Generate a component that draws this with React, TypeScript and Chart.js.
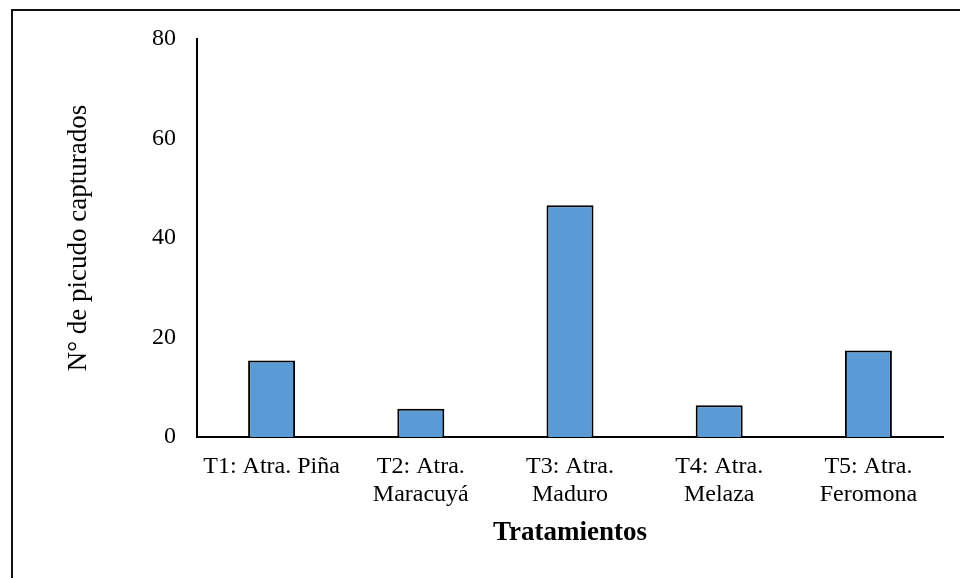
import React, { useEffect, useRef } from "react";
import { Chart, registerables } from "chart.js";

Chart.register(...registerables);

const categories: (string | string[])[] = [
  "T1: Atra. Piña",
  ["T2: Atra.", "Maracuyá"],
  ["T3: Atra.", "Maduro"],
  ["T4: Atra.", "Melaza"],
  ["T5: Atra.", "Feromona"],
];
const capturados = [15.4, 5.7, 46.6, 6.4, 17.4];
const yTicks = [0, 20, 40, 60, 80];

const FONT = '"Liberation Serif", "Times New Roman", serif';

const framePlugin = {
  id: "frame",
  beforeDraw(chart: any) {
    const ctx = chart.ctx;
    ctx.save();
    ctx.fillStyle = "#fff";
    ctx.fillRect(0, 0, chart.width, chart.height);
    ctx.fillStyle = "#111";
    ctx.fillRect(11, 9, 2, chart.height);
    ctx.fillRect(11, 9, chart.width, 2);
    ctx.restore();
  },
};

export default function App() {
  const ref = useRef<HTMLCanvasElement>(null);
  useEffect(() => {
    document.body.style.margin = "0";
    const chart = new Chart(ref.current!, {
      type: "bar",
      data: {
        labels: categories,
        datasets: [
          {
            data: capturados,
            backgroundColor: "#5B9BD5",
            borderColor: "#000",
            borderWidth: 2,
            barPercentage: 0.315,
            categoryPercentage: 1,
          },
        ],
      },
      options: {
        responsive: false,
        animation: false,
        layout: { padding: { left: 0, top: 39, right: 17, bottom: 0 } },
        plugins: { legend: { display: false }, tooltip: { enabled: false } },
        scales: {
          x: {
            grid: { display: false, drawTicks: false },
            border: { display: true, color: "#000", width: 2 },
            ticks: {
              color: "#000",
              padding: 16,
              maxRotation: 0,
              autoSkip: false,
              font: { family: FONT, size: 24, lineHeight: 1.15 },
            },
            title: {
              display: true,
              text: "Tratamientos",
              color: "#000",
              font: { family: FONT, size: 27, weight: "bold", lineHeight: 1.2 },
              padding: { top: 0, bottom: 29 },
            },
            afterFit: (s: any) => {
              s.height = 141;
            },
          },
          y: {
            min: 0,
            max: 80,
            afterBuildTicks: (s: any) => {
              s.ticks = yTicks.map((v) => ({ value: v }));
            },
            grid: { display: false, drawTicks: false },
            border: { display: true, color: "#000", width: 2 },
            ticks: {
              color: "#000",
              padding: 21,
              font: { family: FONT, size: 24 },
            },
            title: {
              display: true,
              text: "N° de picudo capturados",
              color: "#000",
              font: { family: FONT, size: 27, lineHeight: 1.2 },
              padding: { top: 63, bottom: 0 },
            },
            afterFit: (s: any) => {
              s.width = 197;
            },
          },
        },
      },
      plugins: [framePlugin],
    });
    return () => chart.destroy();
  }, []);
  return (
    <div style={{ position: "absolute", left: 0, top: 0, width: 960, height: 578 }}>
      <canvas ref={ref} width={960} height={578} />
    </div>
  );
}
